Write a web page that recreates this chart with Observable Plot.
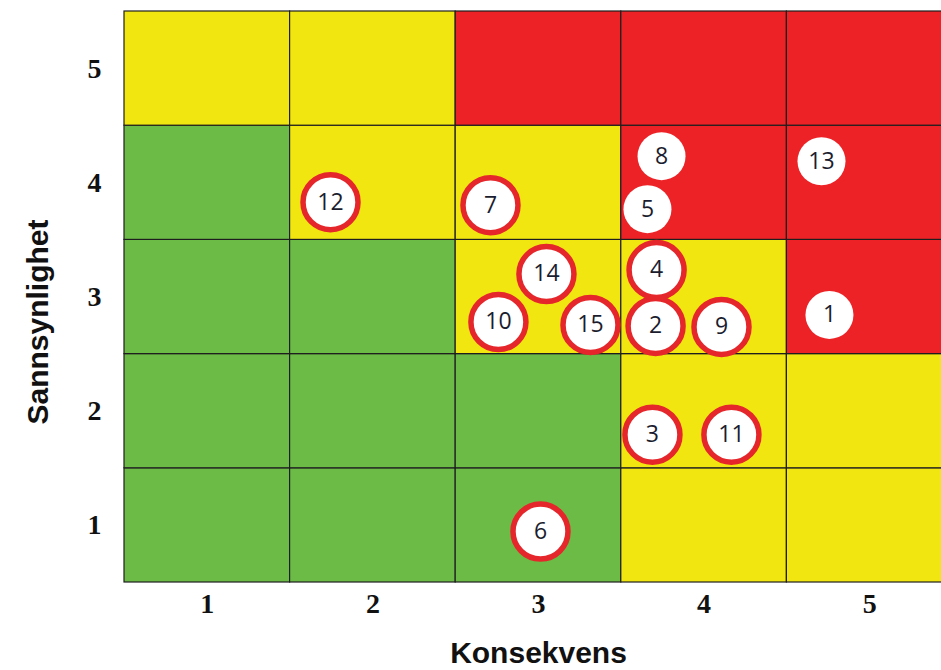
<!DOCTYPE html>
<html>
<head>
<meta charset="utf-8">
<script src="https://cdn.jsdelivr.net/npm/d3@7"></script>
<script src="https://cdn.jsdelivr.net/npm/@observablehq/plot@0.6"></script>
<style>
  html, body { margin: 0; padding: 0; background: #fff; overflow: hidden; }
  #chart svg { display: block; }
</style>
</head>
<body>
<div id="chart"></div>
<script>
// Axes categories
const konsekvens = [1, 2, 3, 4, 5];
const sannsynlighet = [1, 2, 3, 4, 5];

// Risk level of each matrix cell, one list per sannsynlighet row (konsekvens 1..5)
const levelRow1 = ["lav", "lav", "lav", "middels", "middels"];
const levelRow2 = ["lav", "lav", "lav", "middels", "middels"];
const levelRow3 = ["lav", "lav", "middels", "middels", "høy"];
const levelRow4 = ["lav", "middels", "middels", "høy", "høy"];
const levelRow5 = ["middels", "middels", "høy", "høy", "høy"];
const levelRows = [levelRow1, levelRow2, levelRow3, levelRow4, levelRow5];

// Risks (numbered), their position in the matrix and whether they are ringed in red
const riskIds      = [1, 2, 3, 4, 5, 6, 7, 8, 9, 10, 11, 12, 13, 14, 15];
const riskKons     = [4.757, 3.707, 3.688, 3.713, 3.658, 3.012, 2.710, 3.743, 4.105, 2.758, 4.165, 1.744, 4.709, 3.048, 3.314];
const riskSann     = [2.843, 2.747, 1.794, 3.236, 3.769, 0.946, 3.804, 4.233, 2.738, 2.781, 1.794, 3.830, 4.189, 3.201, 2.755];
const riskOutlined = [false, true, true, true, false, true, true, false, true, true, true, true, false, true, true];

const cells = [];
sannsynlighet.forEach((s, i) => konsekvens.forEach((k, j) => cells.push({k, s, level: levelRows[i][j]})));
const risks = riskIds.map((id, i) => ({id: String(id), k: riskKons[i], s: riskSann[i], outlined: riskOutlined[i]}));

const chart = Plot.plot({
  width: 941,
  height: 670,
  marginLeft: 124,
  marginRight: -11,
  marginTop: 11,
  marginBottom: 88,
  x: {domain: [0.5, 5.5]},
  y: {domain: [0.5, 5.5]},
  color: {domain: ["lav", "middels", "høy"], range: ["#6cbb46", "#f2e610", "#ec2226"]},
  style: {background: "#fff", overflow: "hidden"},
  marks: [
    Plot.rect(cells, {
      x1: d => d.k - 0.5, x2: d => d.k + 0.5,
      y1: d => d.s - 0.5, y2: d => d.s + 0.5,
      fill: "level", stroke: "#1e1e1e", strokeWidth: 1.2
    }),
    Plot.axisX({ticks: konsekvens, tickFormat: "d", tickSize: 0, tickPadding: 11, label: null,
      fontSize: 28, fontWeight: "bold", fontFamily: "Liberation Serif", fill: "#111"}),
    Plot.axisY({ticks: sannsynlighet, tickFormat: "d", tickSize: 0, tickPadding: 23, label: null,
      fontSize: 28, fontWeight: "bold", fontFamily: "Liberation Serif", fill: "#111"}),
    Plot.text(["Konsekvens"], {text: d => d, frameAnchor: "bottom", lineAnchor: "middle", dy: 71,
      fontSize: 30, fontWeight: "bold", fontFamily: "Liberation Sans", fill: "#111"}),
    Plot.text(["Sannsynlighet"], {text: d => d, frameAnchor: "left", textAnchor: "middle", lineAnchor: "middle",
      dx: -86, dy: 25, rotate: -90,
      fontSize: 30, fontWeight: "bold", fontFamily: "Liberation Sans", fill: "#111"}),
    Plot.dot(risks.filter(d => d.outlined), {x: "k", y: "s", r: 27.5,
      fill: "#ffffff", stroke: "#e5262b", strokeWidth: 5.5}),
    Plot.dot(risks.filter(d => !d.outlined), {x: "k", y: "s", r: 24,
      fill: "#ffffff", stroke: "none"}),
    Plot.text(risks, {x: "k", y: "s", text: "id", fontSize: 23,
      fontFamily: "Open Sans", fill: "#1b1d2e"})
  ]
});
document.getElementById("chart").appendChild(chart);
</script>
</body>
</html>
